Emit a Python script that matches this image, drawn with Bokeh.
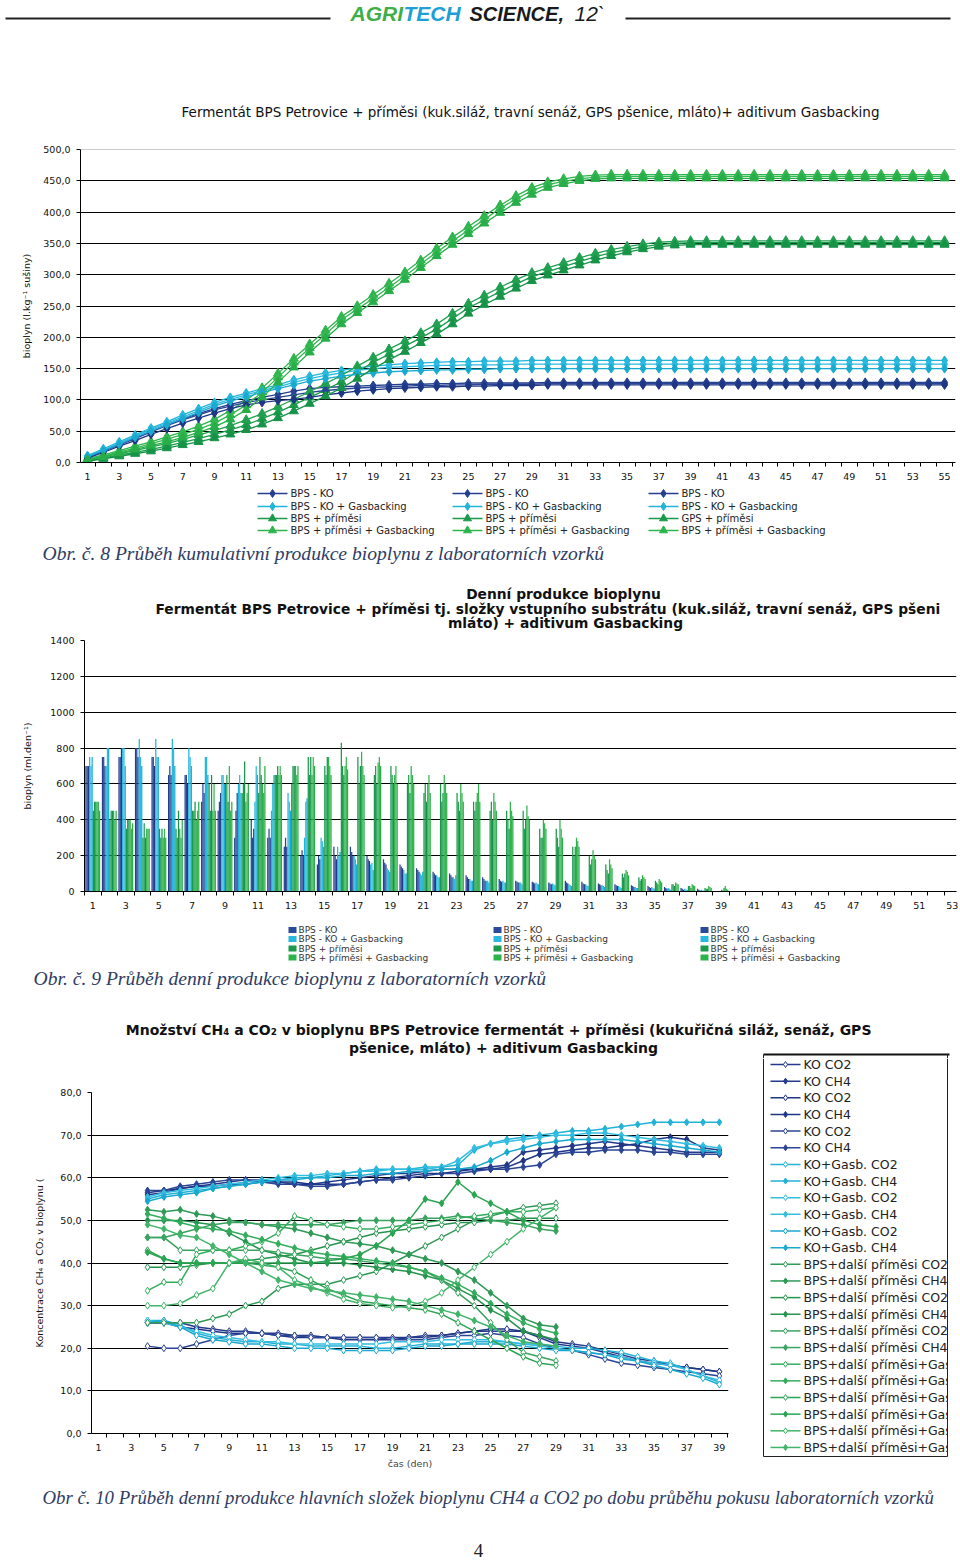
from bokeh.plotting import figure
from bokeh.layouts import column, row
from bokeh.models import Range1d, FixedTicker, Span
from bokeh.core.properties import value
from bokeh.embed import file_html
from bokeh.resources import INLINE

SANS = "DejaVu Sans"
SERIF = "Liberation Serif"
HEAD = "Liberation Sans"

# ---------------- Chart 1: cumulative biogas (days 1..55) ----------------
days1 = list(range(1, 56))
ticks1 = list(range(1, 56, 2))
ko_1 = [9, 19, 29, 39, 50, 60, 70, 78, 86, 93,
        99, 104, 109, 114, 118, 120, 121, 122, 123, 124,
        125, 125, 126, 126, 127, 127, 127, 127, 127, 128,
        128, 128, 128, 128, 128, 128, 128, 128, 128, 128,
        128, 128, 128, 128, 128, 128, 128, 128, 128, 128,
        128, 128, 128, 128, 128]
ko_2 = [8, 18, 28, 38, 49, 59, 68, 76, 84, 90,
        96, 100, 104, 108, 112, 115, 117, 119, 120, 121,
        122, 123, 123, 124, 124, 125, 125, 125, 125, 126,
        126, 126, 126, 126, 126, 126, 126, 126, 126, 126,
        126, 126, 126, 126, 126, 126, 126, 126, 126, 126,
        126, 126, 126, 126, 126]
ko_3 = [7, 16, 26, 35, 45, 54, 63, 71, 79, 86,
        92, 96, 99, 101, 104, 108, 111, 114, 116, 118,
        119, 120, 121, 121, 122, 122, 123, 123, 123, 124,
        124, 124, 124, 124, 124, 124, 124, 124, 124, 124,
        124, 124, 124, 124, 124, 124, 124, 124, 124, 124,
        124, 124, 124, 124, 124]
kog_1 = [11, 22, 33, 44, 55, 65, 76, 86, 96, 104,
         111, 118, 124, 132, 138, 143, 147, 151, 154, 156,
         158, 159, 160, 161, 161, 162, 162, 162, 163, 163,
         163, 163, 163, 163, 163, 163, 163, 163, 163, 163,
         163, 163, 163, 163, 163, 163, 163, 163, 163, 163,
         163, 163, 163, 163, 163]
kog_2 = [10, 20, 31, 42, 53, 63, 73, 83, 93, 101,
         108, 115, 121, 128, 134, 139, 143, 147, 150, 152,
         153, 154, 155, 155, 156, 156, 156, 157, 157, 157,
         157, 157, 157, 157, 157, 157, 157, 157, 157, 157,
         157, 157, 157, 157, 157, 157, 157, 157, 157, 157,
         157, 157, 157, 157, 157]
kog_3 = [9, 19, 29, 40, 50, 60, 70, 80, 90, 98,
         105, 112, 118, 124, 130, 134, 138, 141, 143, 145,
         146, 147, 148, 148, 149, 149, 150, 150, 150, 150,
         150, 150, 150, 150, 150, 150, 150, 150, 150, 150,
         150, 150, 150, 150, 150, 150, 150, 150, 150, 150,
         150, 150, 150, 150, 150]
p_1 = [3, 7, 12, 16, 21, 26, 32, 38, 45, 52,
       60, 70, 80, 92, 104, 116, 129, 145, 160, 173,
       186, 199, 213, 230, 247, 260, 273, 285, 297, 305,
       313, 321, 329, 335, 340, 345, 348, 350, 351, 351,
       351, 351, 351, 351, 351, 351, 351, 351, 351, 351,
       351, 351, 351, 351, 351]
p_2 = [4, 9, 14, 19, 25, 30, 37, 44, 51, 59,
       68, 78, 89, 101, 113, 126, 139, 154, 168, 181,
       194, 207, 221, 238, 254, 267, 280, 292, 303, 311,
       319, 327, 334, 340, 345, 349, 352, 353, 354, 354,
       354, 354, 354, 354, 354, 354, 354, 354, 354, 354,
       354, 354, 354, 354, 354]
p_3 = [2, 6, 10, 14, 18, 23, 28, 33, 39, 45,
       52, 61, 71, 82, 94, 106, 119, 134, 150, 164,
       177, 191, 205, 221, 238, 252, 265, 278, 290, 299,
       307, 315, 323, 330, 336, 341, 345, 347, 348, 348,
       348, 348, 348, 348, 348, 348, 348, 348, 348, 348,
       348, 348, 348, 348, 348]
pg_1 = [6, 12, 19, 26, 33, 41, 49, 58, 69, 83,
        99, 119, 142, 166, 189, 211, 233, 250, 268, 286,
        304, 323, 342, 360, 377, 394, 411, 426, 439, 448,
        453, 457, 459, 460, 460, 460, 460, 460, 460, 460,
        460, 460, 460, 460, 460, 460, 460, 460, 460, 460,
        460, 460, 460, 460, 460]
pg_2 = [5, 10, 17, 23, 30, 37, 45, 53, 63, 76,
        92, 112, 136, 160, 183, 205, 228, 245, 262, 280,
        298, 317, 336, 354, 371, 388, 406, 421, 434, 444,
        449, 453, 456, 457, 457, 457, 457, 457, 457, 457,
        457, 457, 457, 457, 457, 457, 457, 457, 457, 457,
        457, 457, 457, 457, 457]
pg_3 = [4, 9, 15, 21, 27, 33, 40, 48, 57, 69,
        84, 104, 128, 152, 176, 198, 221, 239, 256, 274,
        292, 311, 330, 348, 365, 382, 399, 415, 428, 439,
        445, 450, 453, 454, 454, 454, 454, 454, 454, 454,
        454, 454, 454, 454, 454, 454, 454, 454, 454, 454,
        454, 454, 454, 454, 454]
y_ticks1 = [0, 50, 100, 150, 200, 250, 300, 350, 400, 450, 500]
y_labels1 = ["0,0", "50,0", "100,0", "150,0", "200,0", "250,0", "300,0", "350,0", "400,0", "450,0", "500,0"]

# ---------------- Chart 2: daily biogas (days 1..40 with data, axis to 53) ----------------
days2 = list(range(1, 41))
ticks2 = list(range(1, 54, 2))
dko_1 = [700, 750, 750, 800, 750, 650, 650, 500, 450, 300,
         400, 300, 250, 200, 150, 250, 250, 200, 180, 150,
         130, 110, 100, 90, 80, 70, 60, 55, 50, 60,
         55, 45, 40, 35, 30, 25, 20, 15, 0, 0]
dko_2 = [700, 750, 750, 800, 750, 700, 650, 600, 500, 450,
         300, 350, 300, 230, 200, 200, 220, 180, 160, 140,
         120, 100, 90, 80, 70, 60, 55, 50, 45, 50,
         45, 40, 35, 30, 25, 20, 15, 10, 0, 0]
dko_3 = [700, 700, 800, 750, 700, 650, 600, 550, 550, 550,
         350, 300, 250, 200, 180, 180, 200, 170, 150, 130,
         110, 90, 80, 70, 60, 55, 50, 45, 40, 45,
         40, 35, 30, 25, 20, 15, 10, 5, 0, 0]
dkog_1 = [750, 700, 800, 850, 850, 850, 800, 750, 650, 600,
          500, 450, 550, 300, 300, 250, 200, 150, 130, 120,
          100, 90, 80, 70, 60, 60, 50, 50, 45, 40,
          40, 35, 30, 25, 25, 20, 15, 10, 0, 0]
dkog_2 = [700, 800, 800, 750, 750, 800, 750, 750, 650, 650,
          700, 600, 500, 500, 280, 200, 180, 160, 120, 100,
          90, 80, 70, 60, 60, 50, 50, 45, 40, 35,
          35, 30, 25, 20, 20, 15, 10, 5, 0, 0]
dkog_3 = [750, 800, 700, 700, 750, 700, 700, 650, 600, 550,
          650, 650, 450, 520, 250, 220, 150, 120, 110, 100,
          110, 80, 90, 60, 50, 50, 40, 40, 35, 30,
          30, 25, 20, 20, 15, 10, 10, 5, 0, 0]
dp_1 = [450, 400, 350, 300, 350, 350, 450, 600, 600, 550,
        550, 650, 600, 750, 700, 830, 750, 650, 700, 600,
        550, 600, 550, 500, 450, 450, 450, 350, 350, 250,
        200, 150, 100, 80, 60, 40, 30, 20, 10, 0]
dp_2 = [500, 450, 400, 380, 300, 300, 450, 450, 650, 600,
        750, 650, 700, 650, 650, 700, 600, 700, 650, 650,
        600, 500, 500, 450, 500, 400, 350, 300, 300, 200,
        150, 120, 80, 60, 50, 40, 30, 15, 5, 0]
dp_3 = [500, 450, 400, 300, 350, 450, 500, 650, 500, 725,
        650, 700, 700, 750, 750, 650, 700, 600, 600, 550,
        500, 550, 450, 500, 400, 350, 400, 300, 250, 250,
        180, 100, 100, 70, 40, 30, 20, 15, 20, 0]
dpg_1 = [500, 450, 400, 350, 300, 350, 400, 450, 700, 500,
         600, 650, 700, 650, 750, 700, 780, 720, 650, 700,
         600, 650, 600, 550, 550, 500, 480, 400, 400, 300,
         230, 180, 120, 90, 70, 50, 40, 30, 30, 0]
dpg_2 = [500, 400, 350, 350, 350, 300, 450, 600, 450, 550,
         550, 700, 650, 750, 700, 750, 700, 750, 700, 650,
         650, 600, 550, 600, 500, 450, 420, 380, 350, 280,
         200, 150, 110, 80, 60, 45, 35, 25, 15, 0]
dpg_3 = [450, 450, 380, 350, 300, 400, 500, 450, 500, 600,
         700, 650, 700, 700, 650, 680, 650, 700, 600, 600,
         550, 550, 500, 500, 450, 420, 400, 350, 300, 250,
         180, 130, 90, 70, 50, 40, 30, 20, 10, 0]
y_ticks2 = [0, 200, 400, 600, 800, 1000, 1200, 1400]

# ---------------- Chart 3: CH4 / CO2 content (%) ----------------
days3a = list(range(4, 40))   # KO, KO+Gasb. series
days3b = list(range(4, 30))   # BPS + příměsi series
ticks3 = list(range(1, 40, 2))
ko_co2_1 = [26, 26, 26, 25, 24.5, 24, 24, 23.5, 23.5, 23, 23, 22.5, 22.5, 22.5, 22.5, 22.5, 22.5, 23,
            23, 23.5, 24, 24, 24, 24, 23, 21.5, 21, 20.5, 19.5, 18.5, 17.5, 17, 16, 15.5, 15, 14.5]
ko_ch4_1 = [56.5, 57, 57.5, 58, 58.5, 59, 59.5, 59.5, 59, 58.5, 58.5, 59, 59.5, 60, 60.5, 61, 61, 61.5,
            62, 62, 62, 62.5, 63, 66, 66.5, 67, 67.5, 68, 68.5, 68, 67.5, 67, 66.5, 66, 66, 66]
ko_co2_2 = [26, 26, 25, 24.5, 24, 23.5, 23.5, 23.5, 23, 22.5, 22.5, 22.5, 22, 22, 22, 22, 22.5, 22.5,
            23, 23.5, 24, 24.5, 24.5, 24, 22.5, 21, 20.5, 20, 19, 18, 17, 16.5, 16, 15.5, 15, 14.5]
ko_ch4_2 = [56, 56.5, 57.5, 58, 58, 58.5, 58.5, 59, 59, 59, 58.5, 58.5, 58.5, 59, 59.5, 60, 60.5, 61,
            61, 61.5, 62, 62, 62.5, 64, 65.5, 66, 66.5, 67, 67, 67.5, 68, 69, 69.5, 69, 67, 66.5]
ko_co2_3 = [20.5, 20, 20, 21, 22, 23, 23.5, 23.5, 23, 23, 22.5, 22.5, 22.5, 22.5, 22.5, 22, 22, 22,
            22.5, 23, 23, 23.5, 23, 22.5, 21, 20, 19.5, 18.5, 17.5, 16.5, 16, 15.5, 15, 14.5, 14, 13.5]
ko_ch4_3 = [57, 57, 58, 58.5, 59, 59.5, 59.5, 59, 58.5, 58.5, 58, 58, 58.5, 59, 59.5, 59.5, 60, 60.5,
            61, 61, 61.5, 62, 62, 62.5, 63, 65.5, 66, 66, 66.5, 66.5, 66.5, 66, 66, 65.5, 65.5, 65.5]
kog_co2_1 = [26.5, 26.5, 25.5, 23.5, 22.5, 22, 21.5, 21.5, 21, 21, 20.5, 20.5, 20.5, 20.5, 20, 20, 20.5, 21,
             21, 21, 21.5, 21.5, 21.5, 21, 21, 20.5, 20, 20, 19.5, 19, 18, 17, 16.5, 15, 13.5, 12]
kog_ch4_1 = [55, 56, 56.5, 57, 57.5, 58, 58.5, 59, 59.5, 60, 60, 60.5, 61, 61.5, 62, 62, 62, 62.5,
             62.5, 63, 66.5, 68, 69, 69.5, 70, 70.5, 71, 71, 71.5, 72, 72.5, 73, 73, 73, 73, 73]
kog_co2_2 = [26.5, 26, 25, 24, 23, 22.5, 22, 21.5, 21.5, 21, 21, 21, 21, 21, 21, 21.5, 21.5, 21.5,
             22, 22, 22, 22, 21.5, 21, 20.5, 20, 19.5, 19, 18.5, 18, 17, 16.5, 16, 15, 13.5, 12.5]
kog_ch4_2 = [55.5, 56.5, 57, 57.5, 58, 58.5, 59, 59.5, 60, 60.5, 60.5, 61, 61, 61.5, 61.5, 62, 62, 62,
             62.5, 64, 67, 68, 68.5, 69, 69.5, 70, 70, 70.5, 70.5, 70, 69.5, 69, 68.5, 68, 67.5, 67]
kog_co2_3 = [26, 26.5, 25, 23, 22, 21.5, 21, 21, 20.5, 20, 20, 20, 19.5, 19.5, 19.5, 19.5, 20, 20.5,
             20.5, 21, 21, 21, 21, 20.5, 20, 19.5, 19.5, 19, 18.5, 17.5, 17, 16, 15, 14, 13, 11.5]
kog_ch4_3 = [54.5, 55.5, 56, 56.5, 57.5, 58, 58.5, 59, 59.5, 59.5, 60, 60, 60.5, 60.5, 61, 61, 61.5, 61.5,
             62, 62, 62.5, 64, 66, 67, 68, 68.5, 69, 69, 69, 69, 68.5, 68, 67.5, 67, 66.5, 66]
p_co2_1 = [26, 26, 26, 26, 27, 28, 30, 31, 34, 35, 35, 35, 36, 37, 38, 40, 42, 44, 46, 48, 50, 51, 52, 53, 53.5, 54]
p_ch4_1 = [52.5, 52, 52.5, 51.5, 51, 50, 49.5, 49, 48.5, 48, 47, 46, 45, 44.5, 44, 43, 42, 41, 40, 38, 36, 33, 30, 27, 25.5, 25]
p_co2_2 = [39, 39, 39, 39.5, 40, 40, 40.5, 41, 41.5, 42, 43, 44, 45, 46, 47, 47.5, 48, 48.5, 49, 49.5, 49.5, 50, 50, 50.5, 50.5, 50.5]
p_ch4_2 = [50, 50, 50, 49.5, 49, 47, 45, 43, 42, 41, 40, 40, 40, 39.5, 39, 38.5, 38, 37, 36, 34, 32, 29, 27, 24, 23, 22]
p_co2_3 = [46, 46, 43, 43, 43, 43, 43, 43, 42.5, 42, 41.5, 41, 41, 40.5, 40, 39.5, 39, 38, 36, 33, 30, 26, 22, 19, 18, 17]
p_ch4_3 = [46, 46, 47, 48, 49, 49.5, 49.5, 49, 49, 49, 49, 49, 49.5, 50, 50, 50, 50, 50.5, 50.5, 51, 50.5, 50, 49.5, 49, 48, 47.5]
pg_co2_1 = [33.5, 35.5, 35.5, 42, 43, 43, 44, 45, 47, 51, 50, 49, 48.5, 48, 48, 48.5, 49, 49.5, 50, 50.5, 51, 51.5, 52, 52, 52.5, 53]
pg_ch4_1 = [51.5, 50.5, 49.5, 48.5, 48, 47.5, 46.5, 45.5, 44.5, 43.5, 42.5, 42, 41.5, 41, 40.5, 40, 39, 38, 36.5, 35, 33, 30.5, 28, 26, 24.5, 23.5]
pg_co2_2 = [43, 41, 40, 40, 40, 40, 40, 39.5, 39, 38, 36, 34, 32.5, 31, 30.5, 30, 29.5, 29, 28, 26, 24, 22, 20, 18, 16.5, 16]
pg_ch4_2 = [42.5, 41, 40, 40, 40, 40, 40, 40, 40, 40, 40, 40.5, 41, 42, 44, 47, 50, 55, 54, 59, 56, 54, 52, 50, 49, 48.5]
pg_co2_3 = [30, 30, 30.5, 32.5, 34, 40, 41, 40, 39, 36, 34.5, 33, 31.5, 30.5, 30, 29.5, 30, 31, 33, 36, 39, 42, 45, 48, 50.5, 53]
pg_ch4_3 = [49, 48, 46.5, 46, 44, 42, 40, 38, 36, 35, 34, 33.5, 33, 32.5, 32, 31.5, 31, 30, 29, 28, 26.5, 25, 23, 21.5, 21, 20.5]
y_ticks3 = [0, 10, 20, 30, 40, 50, 60, 70, 80]
y_labels3 = ["0,0", "10,0", "20,0", "30,0", "40,0", "50,0", "60,0", "70,0", "80,0"]

# ---------------- text ----------------
title1 = "Fermentát BPS Petrovice + příměsi (kuk.siláž, travní senáž, GPS pšenice, mláto)+ aditivum Gasbacking"
title2a = "Denní produkce bioplynu"
title2b = "Fermentát BPS Petrovice  +  příměsi tj. složky  vstupního substrátu (kuk.siláž, travní senáž, GPS pšeni"
title2c = "mláto) + aditivum Gasbacking"
title3a = "Množství CH₄ a CO₂ v bioplynu BPS Petrovice   fermentát + příměsi (kukuřičná siláž, senáž, GPS"
title3b = "pšenice, mláto) + aditivum Gasbacking"
cap1 = "Obr. č. 8 Průběh kumulativní produkce bioplynu z laboratorních vzorků"
cap2 = "Obr. č. 9 Průběh denní produkce bioplynu z laboratorních vzorků"
cap3 = "Obr č. 10 Průběh denní produkce hlavních složek bioplynu CH4 a CO2 po dobu průběhu pokusu laboratorních vzorků"
leg1_cols = [["BPS - KO", "BPS - KO + Gasbacking", "BPS + příměsi", "BPS + příměsi + Gasbacking"],
             ["BPS - KO", "BPS - KO + Gasbacking", "BPS + příměsi", "BPS + příměsi + Gasbacking"],
             ["BPS - KO", "BPS - KO + Gasbacking", "GPS + příměsi", "BPS + příměsi + Gasbacking"]]
leg2_labels = ["BPS - KO", "BPS - KO + Gasbacking", "BPS + příměsi", "BPS + příměsi + Gasbacking"]

NAVY = "#233f8e"
CYAN = "#22b4d9"
GDARK = "#1b9a4a"
GLIGHT = "#2db44c"
CAP = "#2f3d63"


def blank(x0, x1, y0, y1):
    f = figure(width=x1 - x0, height=y1 - y0, x_range=Range1d(x0, x1), y_range=Range1d(y1, y0),
               output_backend="svg", toolbar_location=None, tools="", min_border=0,
               x_axis_type=None, y_axis_type=None, title=None)
    f.frame_align = False
    f.outline_line_color = None
    f.background_fill_color = "white"
    f.border_fill_color = "white"
    return f


def txt(f, x, y, s, size, font=SANS, color="#111111", align="left", style="normal", angle=0):
    f.text(x=[x], y=[y], text=[s], text_font=value(font), text_font_size=size, text_color=color,
           text_align=align, text_baseline="middle", text_font_style=style, angle=angle)


def chart(x0, x1, y0, y1, fl, fr, ft, fb, xr, yr):
    p = figure(width=x1 - x0, height=y1 - y0, x_range=Range1d(*xr), y_range=Range1d(*yr),
               output_backend="svg", toolbar_location=None, tools="", title=None,
               min_border_left=fl - x0, min_border_right=x1 - fr,
               min_border_top=ft - y0, min_border_bottom=y1 - fb)
    p.frame_align = False
    p.outline_line_color = None
    p.background_fill_color = "white"
    p.border_fill_color = "white"
    p.xgrid.visible = False
    return p


def style_axes(p, xticks, xminor, yticks, ylabels, ylab, lab_standoff, xlabel_size="9.5px", gridticks=None):
    ax = p.xaxis[0]
    ax.ticker = FixedTicker(ticks=xticks, minor_ticks=xminor)
    ax.major_tick_out = 0
    ax.major_tick_in = 0
    ax.minor_tick_out = 4
    ax.minor_tick_in = 0
    ax.minor_tick_line_color = "black"
    ax.axis_line_color = "black"
    ax.major_label_text_font = SANS
    ax.major_label_text_font_size = xlabel_size
    ax.major_label_text_color = "#111111"
    ax.major_label_standoff = 6
    ay = p.yaxis[0]
    ay.ticker = FixedTicker(ticks=yticks)
    ay.minor_tick_out = 0
    ay.minor_tick_in = 0
    ay.major_tick_out = 4
    ay.major_tick_in = 0
    ay.axis_line_color = "black"
    ay.major_label_text_font = SANS
    ay.major_label_text_font_size = "9.5px"
    ay.major_label_text_color = "#111111"
    ay.major_label_standoff = 6
    if ylabels is not None:
        ay.major_label_overrides = {t: l for t, l in zip(yticks, ylabels)}
    ay.axis_label = ylab
    ay.axis_label_text_font = SANS
    ay.axis_label_text_font_size = "9.5px"
    ay.axis_label_text_font_style = "normal"
    ay.axis_label_text_color = "#111111"
    ay.axis_label_standoff = lab_standoff
    p.ygrid[0].ticker = FixedTicker(ticks=gridticks if gridticks is not None else yticks)
    p.ygrid.grid_line_color = "black"
    p.ygrid.grid_line_width = 1


# ================= T1: header + title 1 =================
t1 = blank(0, 960, 0, 140)
t1.line(x=[5, 330], y=[18, 18], line_color="#222222", line_width=2)
t1.line(x=[625, 950], y=[18, 18], line_color="#222222", line_width=2)
txt(t1, 350, 13, "AGRI", "21px", HEAD, "#3fae49", style="bold italic")
txt(t1, 403, 13, "TECH", "21px", HEAD, "#1e9fd6", style="bold italic")
txt(t1, 469, 13, "SCIENCE,", "20px", HEAD, "#1a1a1a", style="bold italic")
txt(t1, 574, 13, "12`", "21px", HEAD, "#1a1a1a", style="italic")
txt(t1, 530, 111, title1, "13.5px", SANS, "#111111", align="center")

# ================= C1: cumulative chart =================
c1 = chart(0, 960, 140, 482, 80, 955, 149, 462, (0.56, 55.69), (0, 500))
style_axes(c1, ticks1, [d + 0.5 for d in range(0, 56)], y_ticks1, y_labels1,
           "bioplyn (l.kg⁻¹ sušiny)", 8, gridticks=y_ticks1[:-1])
c1.add_layout(Span(location=y_ticks1[-1], dimension="width", line_color="#9a9a9a", line_width=1))
series1 = [(ko_1, NAVY, "diamond", 9), (kog_1, CYAN, "diamond", 9), (p_1, GDARK, "triangle", 9), (pg_1, GLIGHT, "triangle", 9),
           (ko_2, "#2a4596", "diamond", 9), (kog_2, "#2cbbe0", "diamond", 9), (p_2, "#21a050", "triangle", 9), (pg_2, "#35b852", "triangle", 9),
           (ko_3, "#1d3785", "diamond", 9), (kog_3, "#1aaad0", "diamond", 9), (p_3, "#179348", "triangle", 9), (pg_3, "#27ae48", "triangle", 9)]
for vals, col, mk, sz in series1:
    c1.line(days1, vals, line_color=col, line_width=1.3)
    c1.scatter(days1, vals, marker=mk, size=sz, fill_color=col, line_color=col)

# ================= T2: legend 1, caption 1, title 2 =================
t2 = blank(0, 960, 482, 632)
leg1_x = [257, 452, 648]
leg_rows1 = [493, 506, 518, 530]
leg1_style = [(NAVY, "diamond", 8), (CYAN, "diamond", 8), (GDARK, "triangle", 8), (GLIGHT, "triangle", 8)]
for cx, labels in zip(leg1_x, leg1_cols):
    for ry, lab, (col, mk, sz) in zip(leg_rows1, labels, leg1_style):
        t2.line(x=[cx, cx + 30], y=[ry, ry], line_color=col, line_width=1.5)
        t2.scatter(x=[cx + 15], y=[ry], marker=mk, size=sz, fill_color=col, line_color=col)
        txt(t2, cx + 33, ry, lab, "10px", SANS, "#222222")
txt(t2, 42, 553, cap1, "19.6px", SERIF, CAP, style="italic")
txt(t2, 563, 593, title2a, "13.8px", SANS, "#111111", align="center", style="bold")
txt(t2, 155, 608, title2b, "13.8px", SANS, "#111111", style="bold")
txt(t2, 565, 622, title2c, "13.8px", SANS, "#111111", align="center", style="bold")

# ================= C2: daily bars =================
c2 = chart(0, 960, 632, 912, 84, 956, 640, 891, (0.5, 53.25), (0, 1400))
style_axes(c2, ticks2, [d + 0.5 for d in range(0, 54)], y_ticks2, None, "bioplyn (ml.den⁻¹)", 14)
series2 = [(dko_1, "#263f8e"), (dko_2, "#2a4596"), (dko_3, "#1f3a88"),
           (dkog_1, "#1fb5dc"), (dkog_2, "#2bbbe0"), (dkog_3, "#18acd4"),
           (dp_1, "#18994a"), (dp_2, "#1d9d4c"), (dp_3, "#16934a"),
           (dpg_1, "#2db34b"), (dpg_2, "#34b650"), (dpg_3, "#28ae48")]
bw = 0.075
for i, (vals, col) in enumerate(series2):
    xs = [d + (i - 5.5) * bw for d in days2]
    c2.vbar(x=xs, top=vals, width=bw, fill_color=col, line_color=None)

# ================= T3: legend 2, caption 2, title 3, top of legend-3 box =================
t3 = blank(0, 960, 912, 1058)
leg2_x = [288, 493, 700]
leg_rows2 = [929.5, 938.5, 948, 957]
leg2_cols = ["#2b4a9a", "#29b8e0", "#1a9a4a", "#2db34b"]
for cx in leg2_x:
    for ry, lab, col in zip(leg_rows2, leg2_labels, leg2_cols):
        t3.rect(x=[cx + 4], y=[ry], width=8, height=6, fill_color=col, line_color=None)
        txt(t3, cx + 10, ry, lab, "9px", SANS, "#333333")
txt(t3, 33, 978, cap2, "19.6px", SERIF, CAP, style="italic")
txt(t3, 503, 1029, title3a, "14px", SANS, "#111111", align="center", style="bold")
txt(t3, 503, 1047, title3b, "14px", SANS, "#111111", align="center", style="bold")
t3.line(x=[763, 949], y=[1054, 1054], line_color="#111111", line_width=2)
t3.line(x=[763, 763], y=[1054, 1058], line_color="#222222", line_width=1)
t3.line(x=[947, 947], y=[1054, 1058], line_color="#222222", line_width=1)

# ================= C3: CH4/CO2 lines =================
c3 = chart(0, 752, 1058, 1475, 91, 728, 1092, 1433, (0.57, 39.56), (0, 80))
style_axes(c3, ticks3, [d + 0.5 for d in range(0, 40)], y_ticks3, y_labels3,
           "Koncentrace CH₄ a CO₂ v bioplynu (", 12, "9.5px")
c3.xaxis.axis_label = "čas (den)"
c3.xaxis.axis_label_text_font = SANS
c3.xaxis.axis_label_text_font_size = "9.5px"
c3.xaxis.axis_label_text_font_style = "normal"
c3.xaxis.axis_label_standoff = 4
series3 = [
    (days3a, ko_co2_1, "#253a8a", False, "KO CO2"), (days3a, ko_ch4_1, "#253a8a", True, "KO CH4"),
    (days3a, ko_co2_2, "#1f3585", False, "KO CO2"), (days3a, ko_ch4_2, "#1f3585", True, "KO CH4"),
    (days3a, ko_co2_3, "#2b4595", False, "KO CO2"), (days3a, ko_ch4_3, "#2b4595", True, "KO CH4"),
    (days3a, kog_co2_1, "#22b2d8", False, "KO+Gasb. CO2"), (days3a, kog_ch4_1, "#22b2d8", True, "KO+Gasb. CH4"),
    (days3a, kog_co2_2, "#33bde0", False, "KO+Gasb. CO2"), (days3a, kog_ch4_2, "#33bde0", True, "KO+Gasb. CH4"),
    (days3a, kog_co2_3, "#1aa8cf", False, "KO+Gasb. CO2"), (days3a, kog_ch4_3, "#1aa8cf", True, "KO+Gasb. CH4"),
    (days3b, p_co2_1, "#2f9a55", False, "BPS+další příměsi CO2"), (days3b, p_ch4_1, "#2f9a55", True, "BPS+další příměsi CH4"),
    (days3b, p_co2_2, "#26944d", False, "BPS+další příměsi CO2"), (days3b, p_ch4_2, "#26944d", True, "BPS+další příměsi CH4"),
    (days3b, p_co2_3, "#3aa35f", False, "BPS+další příměsi CO2"), (days3b, p_ch4_3, "#3aa35f", True, "BPS+další příměsi CH4"),
    (days3b, pg_co2_1, "#33ad5c", False, "BPS+další příměsi+Gasb. CO2"), (days3b, pg_ch4_1, "#33ad5c", True, "BPS+další příměsi+Gasb. CH4"),
    (days3b, pg_co2_2, "#2ba552", False, "BPS+další příměsi+Gasb. CO2"), (days3b, pg_ch4_2, "#2ba552", True, "BPS+další příměsi+Gasb. CH4"),
    (days3b, pg_co2_3, "#43b56a", False, "BPS+další příměsi+Gasb. CO2"), (days3b, pg_ch4_3, "#43b56a", True, "BPS+další příměsi+Gasb. CH4"),
]
for xs, vals, col, filled, lab in series3:
    c3.line(xs, vals, line_color=col, line_width=1.5)
    c3.scatter(xs, vals, marker="diamond", size=7, line_color=col,
               fill_color=col if filled else "white")

# ================= L3: legend 3 =================
l3 = blank(752, 948, 1058, 1475)
l3.line(x=[763, 763, 947, 947], y=[1058, 1456, 1456, 1058], line_color="#222222", line_width=1)
for k, (xs, vals, col, filled, lab) in enumerate(series3):
    ry = 1064 + k * 16.65
    l3.line(x=[770, 800], y=[ry, ry], line_color=col, line_width=1.5)
    l3.scatter(x=[785], y=[ry], marker="diamond", size=6, line_color=col,
               fill_color=col if filled else "white")
    txt(l3, 803, ry, lab, "12.5px", SANS, "#222222")

# ================= T4: caption 3 + page number =================
t4 = blank(0, 960, 1475, 1560)
txt(t4, 42, 1497, cap3, "18.8px", SERIF, CAP, style="italic")
txt(t4, 478, 1550, "4", "19px", SERIF, "#222222", align="center")

layout = column(t1, c1, t2, c2, t3, row(c3, l3), t4)
open("out.html", "w").write(file_html(layout, INLINE))
